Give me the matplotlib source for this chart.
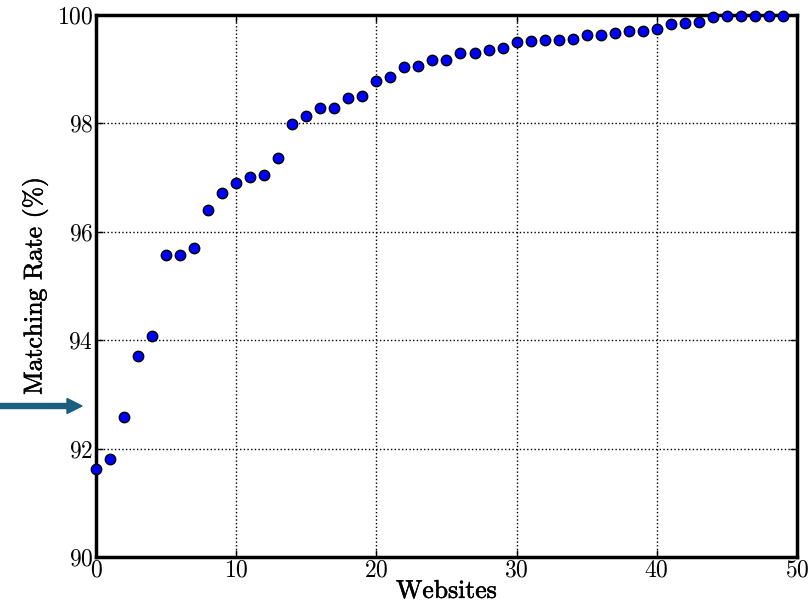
import matplotlib
matplotlib.use('Agg')
import matplotlib.pyplot as plt
import matplotlib.patheffects as pe

# Matching rate per website, sorted ascending
websites = list(range(50))
matching_rate = [91.62, 91.81, 92.58, 93.71, 94.08, 95.57, 95.57, 95.70, 96.40, 96.72,
                 96.90, 97.01, 97.05, 97.36, 97.99, 98.14, 98.28, 98.28, 98.47, 98.51,
                 98.78, 98.86, 99.04, 99.06, 99.17, 99.17, 99.30, 99.30, 99.35, 99.39,
                 99.50, 99.52, 99.54, 99.54, 99.55, 99.63, 99.64, 99.66, 99.70, 99.71,
                 99.75, 99.83, 99.85, 99.88, 99.97, 99.98, 99.98, 99.98, 99.98, 99.98]
x_ticks = [0, 10, 20, 30, 40, 50]
y_ticks = [90, 92, 94, 96, 98, 100]

plt.rcParams['font.family'] = 'cmr10'
plt.rcParams['axes.formatter.use_mathtext'] = True
plt.rcParams['mathtext.fontset'] = 'cm'

fig = plt.figure(figsize=(8.12, 6.10), dpi=100)
ax = fig.add_axes([0.1182, 0.0869, 0.8633, 0.8885])

ax.plot(websites, matching_rate, 'o', color='blue', markeredgecolor='black',
        markeredgewidth=1, markersize=7.5, clip_on=False, zorder=3)

ax.set_xlim(0, 50)
ax.set_ylim(90, 100)
ax.set_xticks(x_ticks)
ax.set_yticks(y_ticks)
ax.tick_params(direction='in', length=5, width=1, labelsize=17, pad=2,
               top=True, right=True)
ax.grid(True, color='black', linestyle=':', linewidth=1)
for s in ax.spines.values():
    s.set_linewidth(2.5)

# labels: roman, slightly heavier
heavy = [pe.withStroke(linewidth=0.4, foreground='black')]
xl = ax.set_xlabel('Websites', fontsize=18.5, labelpad=-2)
yl = ax.set_ylabel('Matching Rate (%)', fontsize=18.5, labelpad=6)
xl.set_path_effects(heavy)
yl.set_path_effects(heavy)

# arrow pointing at the axis on the left
fig.patches.append(matplotlib.patches.FancyArrow(
    0.0, 1 - 406 / 610, 0.101, 0, width=0.0082, head_width=0.0246, head_length=0.0185,
    length_includes_head=True, transform=fig.transFigure, color='#1a5f80'))

fig.savefig('out.png', dpi=100)
